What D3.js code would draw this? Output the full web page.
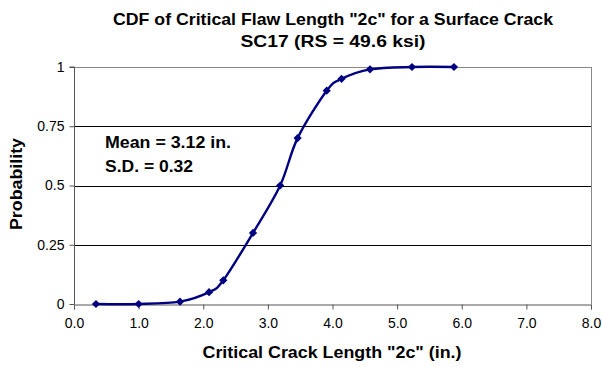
<!DOCTYPE html>
<html>
<head>
<meta charset="utf-8">
<script src="https://cdn.jsdelivr.net/npm/d3@7"></script>
<style>
  body { margin: 0; background: #fff; }
  svg text { font-family: "Liberation Sans", Arial, sans-serif; }
</style>
</head>
<body>
<div id="chart"></div>
<script>
// crack length (in.) and cumulative probability
const crackLength = [0.34, 1.0, 1.64, 2.09, 2.31, 2.77, 3.19, 3.46, 3.91, 4.14, 4.58, 5.23, 5.88];
const probability = [0, 0, 0.01, 0.05, 0.10, 0.30, 0.50, 0.70, 0.90, 0.95, 0.99, 1.0, 1.0];
const xTicks = [0, 1, 2, 3, 4, 5, 6, 7, 8];
const yTicks = [0, 0.25, 0.5, 0.75, 1];
const titleLines = ['CDF of Critical Flaw Length "2c" for a Surface Crack', 'SC17 (RS = 49.6 ksi)'];
const notes = ["Mean = 3.12 in.", "S.D. = 0.32"];

const width = 602, height = 367;
const margin = {top: 67, right: 11, bottom: 63, left: 74};

const svg = d3.select("#chart").append("svg")
    .attr("width", width)
    .attr("height", height);

const x = d3.scaleLinear().domain([0, 8]).range([margin.left, width - margin.right]);
const y = d3.scaleLinear().domain([0, 1]).range([height - margin.bottom, margin.top]);

// the original text is wider than Arial at its height, so stretch to measured widths
function fit(sel, widths) {
    sel.attr("textLength", (d, i) => widths[i]).attr("lengthAdjust", "spacingAndGlyphs");
}

// horizontal gridlines
svg.append("g")
    .selectAll("line")
    .data(yTicks.filter(d => d > 0))
    .enter().append("line")
    .attr("x1", x(0)).attr("x2", x(8))
    .attr("y1", d => Math.round(y(d)) + 0.5).attr("y2", d => Math.round(y(d)) + 0.5)
    .attr("stroke", d => d === 1 ? "#888" : "#000")
    .attr("stroke-width", 1);

// right border of plot area
svg.append("line")
    .attr("x1", Math.round(x(8)) + 0.5).attr("x2", Math.round(x(8)) + 0.5)
    .attr("y1", y(1)).attr("y2", y(0))
    .attr("stroke", "#888");

let xAxis = svg.append("g")
    .attr("transform", `translate(0,${Math.round(y(0)) + 0.5})`)
    .call(d3.axisBottom(x).tickValues(xTicks).tickSize(5).tickPadding(9).tickFormat(d3.format(".1f")));
let yAxis = svg.append("g")
    .attr("transform", `translate(${Math.round(x(0)) + 0.5},0)`)
    .call(d3.axisLeft(y).tickValues(yTicks).tickSize(5).tickPadding(5).tickFormat(d => d));

[xAxis, yAxis].forEach(a => {
    a.select(".domain").attr("stroke", "#555").attr("stroke-width", 1);
    a.selectAll(".tick line").attr("stroke", "#555");
    a.selectAll("text").attr("font-size", 14).attr("fill", "#000")
        .style("font-family", '"Liberation Sans", Arial, sans-serif');
});
yAxis.select(".domain").attr("d", `M-5,${y(1)}H0V${y(0)}`);

const points = crackLength.map((c, i) => ({c: c, p: probability[i]}));

const line = d3.line()
    .x(d => x(d.c))
    .y(d => y(d.p))
    .curve(d3.curveCardinal.tension(0));

svg.append("path")
    .datum(points)
    .attr("d", line)
    .attr("fill", "none")
    .attr("stroke", "#000080")
    .attr("stroke-width", 2.4);

// Excel-style diamond markers: a square turned 45 degrees
svg.append("g")
    .selectAll("path")
    .data(points)
    .enter().append("path")
    .attr("transform", d => `translate(${x(d.c)},${y(d.p)}) rotate(45)`)
    .attr("d", d3.symbol().type(d3.symbolSquare).size(34))
    .attr("fill", "#000080");

// title
svg.append("g").selectAll("text")
    .data(titleLines)
    .enter().append("text")
    .attr("x", 333)
    .attr("y", (d, i) => 25 + i * 22)
    .attr("text-anchor", "middle")
    .attr("font-weight", "bold")
    .attr("font-size", 16.5)
    .text(d => d)
    .call(fit, [440, 185]);

// notes
svg.append("g").selectAll("text")
    .data(notes)
    .enter().append("text")
    .attr("x", 105)
    .attr("y", (d, i) => 148 + i * 24)
    .attr("font-weight", "bold")
    .attr("font-size", 16)
    .text(d => d)
    .call(fit, [126, 88]);

// axis titles
svg.append("text")
    .attr("x", 332).attr("y", 358)
    .attr("text-anchor", "middle")
    .attr("font-weight", "bold")
    .attr("font-size", 16.5)
    .text('Critical Crack Length "2c" (in.)')
    .call(fit, [259]);

svg.append("text")
    .attr("transform", "translate(22,184) rotate(-90)")
    .attr("text-anchor", "middle")
    .attr("font-weight", "bold")
    .attr("font-size", 16.5)
    .text("Probability")
    .call(fit, [92]);
</script>
</body>
</html>
